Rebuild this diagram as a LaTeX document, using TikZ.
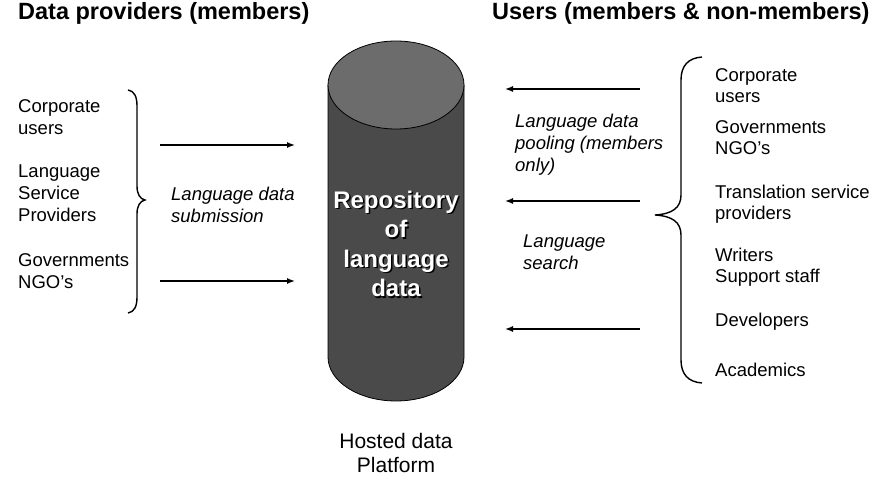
\documentclass[tikz,border=0pt]{standalone}
\usepackage{fontspec}
\setmainfont{Liberation Sans}
\usetikzlibrary{arrows.meta,positioning}

\definecolor{repobody}{RGB}{74,74,74}
\definecolor{repotop}{RGB}{108,108,108}

\tikzset{
  head/.style={anchor=west,inner sep=0pt,font=\fontsize{23.5}{27}\selectfont\bfseries},
  item/.style={anchor=west,align=left,inner sep=0pt,font=\fontsize{18.5}{22}\selectfont},
  itemr/.style={item,font=\fontsize{18.5}{21}\selectfont},
  flow/.style={anchor=west,align=left,inner sep=0pt,font=\fontsize{18.5}{22}\selectfont\itshape},
  repotext/.style={align=center,inner sep=0pt,text=white,font=\fontsize{24}{29.5}\selectfont\bfseries},
  feed/.style={-{Latex[length=8pt,width=6pt]},line width=1.4pt},
  curly/.style={line width=1.4pt},
}

\begin{document}
\begin{tikzpicture}[x=1pt,y=-1pt]
\useasboundingbox (0,0) rectangle (881,486);

% headings
\node[head] (provhead) at (18,13) {Data providers (members)};
\node[head] (userhead) at (492,13) {Users (members \& non-members)};

% the repository drum
\draw[fill=repobody,line width=0.8pt] (328,85) -- (328,357)
  arc[start angle=180,end angle=0,x radius=68,y radius=44] -- (464,85);
\filldraw[fill=repotop,line width=0.8pt] (396,85) ellipse[x radius=68,y radius=44];
\node[repotext,text=black] at (397.5,245.5) {Repository\\of\\language\\data};
\node[repotext] (repo) at (396,244) {Repository\\of\\language\\data};
\node[align=center,inner sep=0pt,font=\fontsize{21}{24}\selectfont] (host) at (396,453) {Hosted data\\Platform};

% providers
\node[item] (lcorp) at (18,117) {Corporate\\users};
\node[item] (lserv) at (18,193) {Language\\Service\\Providers};
\node[item] (lgov) at (18,271) {Governments\\NGO’s};
\draw[curly] (128,90) .. controls (134,91) and (137,96) .. (137,106) -- (137,186)
  .. controls (137,194) and (140,199) .. (145,200)
  .. controls (140,201) and (137,206) .. (137,214) -- (137,297)
  .. controls (137,307) and (134,312) .. (128,313);

\coordinate (in1) at (160,145);
\coordinate (in1e) at (295,145);
\coordinate (in2) at (160,281);
\coordinate (in2e) at (295,281);
\draw[feed] (in1) -- (in1e);
\draw[feed] (in2) -- (in2e);
\node[flow] (submit) at (171,205) {Language data\\submission};

% users
\coordinate (out1) at (640,89);
\coordinate (out1e) at (505,89);
\coordinate (out2) at (640,201);
\coordinate (out2e) at (505,201);
\coordinate (out3) at (640,329);
\coordinate (out3e) at (505,329);
\draw[feed] (out1) -- (out1e);
\draw[feed] (out2) -- (out2e);
\draw[feed] (out3) -- (out3e);
\node[flow] (pool) at (515,145) {Language data\\pooling (members\\only)};
\node[flow] (search) at (523,252) {Language\\search};

\draw[curly] (702,57) .. controls (688,58) and (681,66) .. (681,80) -- (681,195)
  .. controls (681,208) and (672,214) .. (655,215)
  .. controls (672,216) and (681,222) .. (681,235) -- (681,360)
  .. controls (681,374) and (688,382) .. (702,383);

\node[itemr] (rcorp) at (715,86) {Corporate\\users};
\node[itemr] (rgov) at (715,138) {Governments\\NGO’s};
\node[itemr] (rtrans) at (715,204) {Translation service\\providers};
\node[itemr] (rwrit) at (715,267) {Writers\\Support staff};
\node[itemr] (rdev) at (715,322) {Developers};
\node[itemr] (racad) at (715,370) {Academics};
\end{tikzpicture}
\end{document}
